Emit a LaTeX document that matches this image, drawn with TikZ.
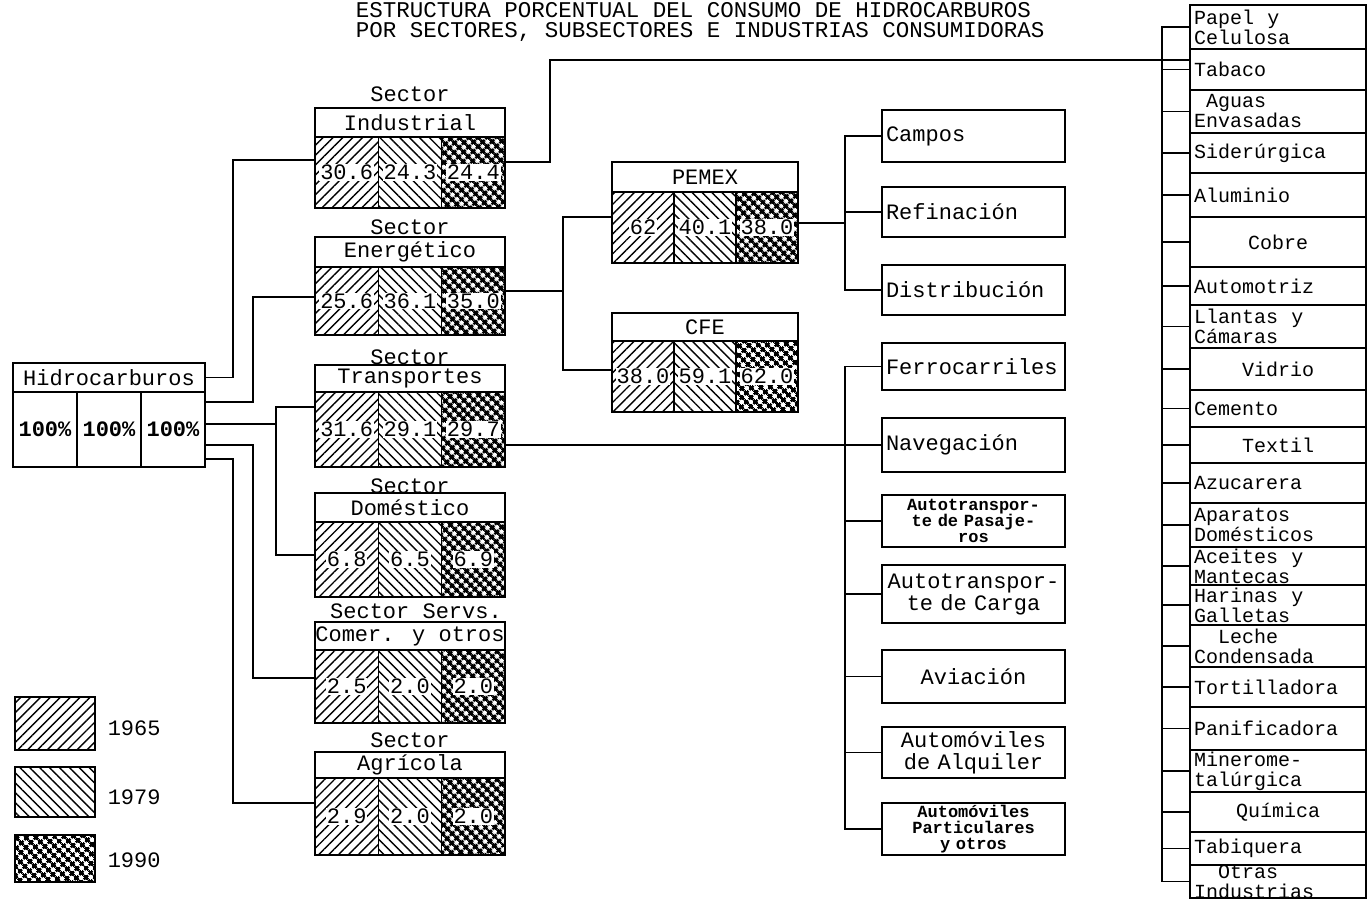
\documentclass[tikz,border=0pt]{standalone}
\usepackage{fontspec}
\setmainfont{Liberation Mono}
\usetikzlibrary{patterns.meta}
\newcommand\mfont{\fontsize{22}{22}\selectfont}
\newcommand\rfont{\fontsize{20}{20}\selectfont}
\newcommand\sfont{\fontsize{17}{16}\selectfont\bfseries}
\newcommand\databox[8]{%
  \pgfmathsetmacro\zzhH{#3-#2}%
  \pgfmathsetmacro\zzdH{#4-#3}%
  \pgfmathsetmacro\zzcW{\bxw/3}%
  \pgfmathsetmacro\zzcA{\bxl+\zzcW/2}%
  \pgfmathsetmacro\zzcB{\bxl+\bxw/2}%
  \pgfmathsetmacro\zzcC{\bxl+5*\zzcW/2}%
  \pgfmathsetmacro\zzhy{(#2+#3)/2}%
  \pgfmathsetmacro\zzdy{(#3+#4)/2}%
  \node[box,minimum width=\bxw pt,minimum height=\zzhH pt] (#1h) at (\zzcB,\zzhy) {#5};
  \node[box,p65,minimum width=\zzcW pt,minimum height=\zzdH pt] (#1a) at (\zzcA,\zzdy) {};
  \node[box,p79,minimum width=\zzcW pt,minimum height=\zzdH pt] (#1b) at (\zzcB,\zzdy) {};
  \node[box,p90,minimum width=\zzcW pt,minimum height=\zzdH pt] (#1c) at (\zzcC,\zzdy) {};
  \node[minimum width=\bxw pt,minimum height=\zzdH pt] (#1d) at (\zzcB,\zzdy) {};
  \node[val] (#1va) at (\zzcA,\zzdy) {#6};
  \node[val] (#1vb) at (\zzcB,\zzdy) {#7};
  \node[val] (#1vc) at (\zzcC,\zzdy) {#8};
}
\newcommand\midbox[6][\mfont]{%
  \pgfmathsetmacro\zzmH{#4-#3}\pgfmathsetmacro\zzmY{(#3+#4)/2}%
  \node[box,minimum width=183pt,minimum height=\zzmH pt] (#2) at (973.5,\zzmY) {};
  \node[text width=175pt,align=#5,font=#1] (#2-txt) at (#2.center) {#6};
}
\newcommand\rcbox[6][\rfont]{%
  \pgfmathsetmacro\zzrH{#4-#3}\pgfmathsetmacro\zzrY{(#3+#4)/2}%
  \node[box,minimum width=176pt,minimum height=\zzrH pt] (#2) at (1278,\zzrY) {};
  \node[text width=168pt,align=#5,font=#1] (#2-txt) at (#2.center) {#6};
}
\begin{document}
\begin{tikzpicture}[x=1pt,y=-1pt,line width=1.5pt,
  every node/.style={inner sep=0pt,font=\mfont},
  box/.style={draw,rectangle,inner sep=0pt},
  val/.style={fill=white,inner sep=1pt},
  p65/.style={pattern={Lines[angle=45,distance=7pt,line width=1.4pt]}},
  p79/.style={pattern={Lines[angle=-45,distance=7pt,line width=1.4pt]}},
  p90/.style={pattern={Hatch[angle=45,distance=6.5pt,line width=2.7pt]}}]
\fill[white] (0,0) rectangle (1370,916);
\useasboundingbox (0,0) rectangle (1370,916);

% title
\node[anchor=north west,align=left,font=\fontsize{22.5}{20}\selectfont] (title) at (355,2)
  {ESTRUCTURA PORCENTUAL DEL CONSUMO DE HIDROCARBUROS\\POR SECTORES, SUBSECTORES E INDUSTRIAS CONSUMIDORAS};

% Hidrocarburos
\node[box,minimum width=192pt,minimum height=29pt] (hh) at (109,377.5) {Hidrocarburos};
\node[box,minimum width=64pt,minimum height=75pt,font=\mfont\bfseries] (ha) at (45,429.5) {100\%};
\node[box,minimum width=64pt,minimum height=75pt,font=\mfont\bfseries] (hb) at (109,429.5) {100\%};
\node[box,minimum width=64pt,minimum height=75pt,font=\mfont\bfseries] (hc) at (173,429.5) {100\%};
\node[minimum width=192pt,minimum height=75pt] (hd) at (109,429.5) {};

% sectors
\def\bxl{315}\def\bxw{190}
\node (inds) at (410,94) {Sector};
\databox{ind}{108}{137}{208}{Industrial}{30.6}{24.3}{24.4}
\node (engs) at (410,227) {Sector};
\databox{eng}{237}{267}{335}{Energético}{25.6}{36.1}{35.0}
\node (tras) at (410,357) {Sector};
\databox{tra}{365}{392}{467}{Transportes}{31.6}{29.1}{29.7}
\node (doms) at (410,486) {Sector};
\databox{dom}{493}{522}{597}{Doméstico}{6.8}{6.5}{6.9}
\node (sers) at (416,611) {Sector Servs.};
\databox{ser}{622}{650}{723}{Comer. y otros}{2.5}{2.0}{2.0}
\node (agrs) at (410,740) {Sector};
\databox{agr}{752}{778}{855}{Agrícola}{2.9}{2.0}{2.0}

% PEMEX / CFE
\def\bxl{612}\def\bxw{186}
\databox{pem}{162}{192}{263}{PEMEX}{62}{40.1}{38.0}
\databox{cfe}{313}{341}{412}{CFE}{38.0}{59.1}{62.0}

% middle column
\midbox{campos}{110}{162}{left}{Campos}
\midbox{refin}{187}{237}{left}{Refinación}
\midbox{distr}{265}{315}{left}{Distribución}
\midbox{ferro}{343}{390}{left}{Ferrocarriles}
\midbox{nav}{418}{472}{left}{Navegación}
\midbox[\sfont]{apas}{495}{547}{center}{Autotranspor-\\te de Pasaje-\\ros}
\midbox{acar}{565}{623}{center}{Autotranspor-\\te de Carga}
\midbox{avia}{650}{703}{center}{Aviación}
\midbox{aalq}{727}{778}{center}{Automóviles\\de Alquiler}
\midbox[\sfont]{apmv}{803}{855}{center}{Automóviles\\Particulares\\y otros}

% right column
\rcbox{papel}{5}{49}{left}{Papel\ \ y\\Celulosa}
\rcbox{tab}{49}{90}{left}{Tabaco}
\rcbox{aguas}{90}{133}{left}{\hspace*{12pt}Aguas\\Envasadas}
\rcbox{sider}{133}{173}{left}{Siderúrgica}
\rcbox{alum}{173}{217}{left}{Aluminio}
\rcbox{cobre}{217}{267}{center}{Cobre}
\rcbox{autom}{267}{305}{left}{Automotriz}
\rcbox{llant}{305}{348}{left}{Llantas\ \ y\\Cámaras}
\rcbox{vidr}{348}{390}{center}{Vidrio}
\rcbox{cem}{390}{427}{left}{Cemento}
\rcbox{txl}{427}{463}{center}{Textil}
\rcbox{azu}{463}{503}{left}{Azucarera}
\rcbox{apar}{503}{547}{left}{Aparatos\\Domésticos}
\rcbox{acei}{547}{585}{left}{Aceites\ \ y\\Mantecas}
\rcbox{hari}{585}{625}{left}{Harinas\ \ y\\Galletas}
\rcbox{lech}{625}{667}{left}{\hspace*{24pt}Leche\\Condensada}
\rcbox{tort}{667}{707}{left}{Tortilladora}
\rcbox{pani}{707}{750}{left}{Panificadora}
\rcbox{mine}{750}{792}{left}{Minerome-\\talúrgica}
\rcbox{quim}{792}{832}{center}{Química}
\rcbox{tabi}{832}{865}{left}{Tabiquera}
\rcbox{otra}{865}{898}{left}{\hspace*{24pt}Otras\\Industrias}

% legend
\node[box,p65,minimum width=80pt,minimum height=53pt] (l65) at (55,723.5) {};
\node[anchor=west] (t65) at (107,728) {1965};
\node[box,p79,minimum width=80pt,minimum height=50pt] (l79) at (55,792) {};
\node[anchor=west] (t79) at (107,797) {1979};
\node[box,p90,minimum width=80pt,minimum height=47pt] (l90) at (55,858.5) {};
\node[anchor=west] (t90) at (107,860) {1990};

% connectors: Hidrocarburos -> sectors
\draw (hh.east) -| (233,160) -- (indd.west |- 0,160);
\draw (hd.east |- 0,402) -| (253,297) -- (engd.west |- 0,297);
\draw (hd.east |- 0,424) -- (276,424);
\draw (trad.west |- 0,407) -| (276,555) -- (domd.west |- 0,555);
\draw (hd.east |- 0,445) -| (253,678) -- (serd.west |- 0,678);
\draw (hd.east |- 0,459) -| (233,803) -- (agrd.west |- 0,803);

% Industrial -> industries
\draw (indd.east |- 0,162) -| (550,60) -- (tab.west |- 0,60);
\draw (papel.west) -| (1162,0 |- otra.west) -- (otra.west);
\foreach \n in {tab,aguas,sider,alum,cobre,autom,llant,vidr,cem,txl,azu,apar,acei,hari,lech,tort,pani,mine,quim,tabi}
  \draw (1162,0 |- \n.west) -- (\n.west);

% Energetico -> PEMEX, CFE
\draw (engd.east |- 0,291) -- (563,291);
\draw (pemd.west |- 0,217) -| (563,370) -- (cfed.west |- 0,370);
\draw (pemd.east |- 0,223) -- (845,223);
\draw (campos.west) -| (845,0 |- distr.west) -- (distr.west);
\draw (845,0 |- refin.west) -- (refin.west);

% Transportes -> subsectors
\draw (trad.east |- nav.west) -- (nav.west);
\draw (ferro.west) -| (845,0 |- apmv.west) -- (apmv.west);
\foreach \n in {apas,acar,avia,aalq}
  \draw (845,0 |- \n.west) -- (\n.west);
\end{tikzpicture}
\end{document}
